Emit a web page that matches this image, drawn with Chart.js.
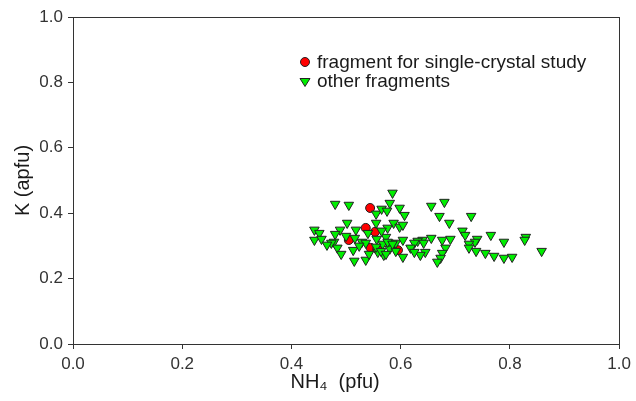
<!DOCTYPE html>
<html>
<head>
<meta charset="utf-8">
<script src="https://cdn.jsdelivr.net/npm/chart.js@4/dist/chart.umd.min.js"></script>
<style>
  html, body { margin: 0; padding: 0; background: #ffffff; }
  #wrap { width: 636px; height: 401px; position: relative; }
</style>
</head>
<body>
<div id="wrap"><canvas id="c" width="636" height="401"></canvas></div>
<script>
// ---- Data ----
const seriesNames = ["fragment for single-crystal study", "other fragments"];

const fragX = [0.544, 0.536, 0.553, 0.505, 0.545, 0.557, 0.595];
const fragY = [0.416, 0.355, 0.343, 0.318, 0.294, 0.290, 0.287];

const otherX = [
  0.480, 0.505, 0.502, 0.442, 0.451, 0.442, 0.455, 0.489, 0.480, 0.500,
  0.478, 0.473, 0.465, 0.484, 0.491, 0.513, 0.515, 0.518, 0.585, 0.580,
  0.555, 0.565, 0.575, 0.598, 0.607, 0.587, 0.576, 0.598, 0.540, 0.516,
  0.529, 0.536, 0.556, 0.573, 0.578, 0.567, 0.591, 0.604, 0.558, 0.569,
  0.580, 0.591, 0.604, 0.536, 0.542, 0.524, 0.555, 0.565, 0.604, 0.555,
  0.576, 0.585, 0.564, 0.573, 0.680, 0.656, 0.671, 0.689, 0.713, 0.718,
  0.656, 0.640, 0.631, 0.625, 0.618, 0.642, 0.676, 0.691, 0.682, 0.676,
  0.673, 0.667, 0.645, 0.636, 0.625, 0.729, 0.765, 0.740, 0.736, 0.725,
  0.789, 0.725, 0.738, 0.755, 0.771, 0.789, 0.804, 0.829, 0.827, 0.858
];
const otherY = [
  0.428, 0.425, 0.370, 0.349, 0.339, 0.318, 0.321, 0.349, 0.336, 0.330,
  0.312, 0.309, 0.303, 0.294, 0.275, 0.287, 0.254, 0.349, 0.462, 0.431,
  0.398, 0.413, 0.407, 0.416, 0.394, 0.370, 0.355, 0.358, 0.339, 0.324,
  0.312, 0.309, 0.321, 0.327, 0.309, 0.306, 0.309, 0.318, 0.281, 0.272,
  0.291, 0.284, 0.266, 0.257, 0.275, 0.300, 0.370, 0.346, 0.364, 0.297,
  0.312, 0.306, 0.284, 0.275, 0.434, 0.422, 0.391, 0.370, 0.346, 0.333,
  0.324, 0.318, 0.315, 0.309, 0.294, 0.309, 0.318, 0.321, 0.294, 0.278,
  0.263, 0.251, 0.281, 0.272, 0.281, 0.391, 0.333, 0.321, 0.312, 0.306,
  0.312, 0.294, 0.284, 0.278, 0.269, 0.263, 0.266, 0.327, 0.318, 0.284
];

const axisTicks = [0.0, 0.2, 0.4, 0.6, 0.8, 1.0];
const xTitle = "NH\u2084  (pfu)";
const yTitle = "K (apfu)";

// ---- Build ----
const toPts = (xs, ys) => xs.map((x, i) => ({ x: x, y: ys[i] }));
const FONT = "'Liberation Sans', Arial, sans-serif";
const INK = "#333333";

const framePlugin = {
  id: "frame",
  afterDatasetsDraw(chart) {
    const { ctx, chartArea: a } = chart;
    ctx.save();
    ctx.strokeStyle = INK;
    ctx.lineWidth = 1;
    ctx.strokeRect(Math.round(a.left) + 0.5, Math.round(a.top) + 0.5,
                   Math.round(a.right - a.left), Math.round(a.bottom - a.top));
    ctx.restore();
  }
};

// x-axis title drawn manually so it can sit slightly left of centre, as in the reference
const xTitlePlugin = {
  id: "xTitle",
  afterDraw(chart) {
    const { ctx, chartArea: a } = chart;
    ctx.save();
    ctx.font = "20px " + FONT;
    ctx.fillStyle = "#1a1a1a";
    ctx.textAlign = "center";
    ctx.textBaseline = "middle";
    ctx.fillText(xTitle, (a.left + a.right) / 2 - 11, 382);
    ctx.restore();
  }
};

const legendPlugin = {
  id: "innerLegend",
  afterDraw(chart) {
    const { ctx, chartArea: a } = chart;
    const x0 = a.left + 232, y0 = a.top + 45, gap = 20;
    ctx.save();
    ctx.font = "19px " + FONT;
    ctx.textBaseline = "middle";
    ctx.beginPath();
    ctx.arc(x0, y0, 4.5, 0, Math.PI * 2);
    ctx.fillStyle = "#ff0000";
    ctx.fill();
    ctx.strokeStyle = "#222";
    ctx.lineWidth = 1;
    ctx.stroke();
    ctx.fillStyle = "#1a1a1a";
    ctx.fillText(seriesNames[0], x0 + 12, y0 + 1);
    const ty = y0 + gap, r = 5;
    ctx.beginPath();
    ctx.moveTo(x0 - r, ty - 3.5);
    ctx.lineTo(x0 + r, ty - 3.5);
    ctx.lineTo(x0, ty + 4.5);
    ctx.closePath();
    ctx.fillStyle = "#00ee00";
    ctx.fill();
    ctx.stroke();
    ctx.fillStyle = "#1a1a1a";
    ctx.fillText(seriesNames[1], x0 + 12, ty);
    ctx.restore();
  }
};

const tickFmt = v => Number(v).toFixed(1);

new Chart(document.getElementById("c"), {
  type: "scatter",
  data: {
    datasets: [
      {
        label: seriesNames[1],
        data: toPts(otherX, otherY),
        pointStyle: "triangle",
        rotation: 180,
        radius: 5.5,
        hoverRadius: 5.5,
        backgroundColor: "#00ee00",
        borderColor: "#222222",
        borderWidth: 1
      },
      {
        label: seriesNames[0],
        data: toPts(fragX, fragY),
        pointStyle: "circle",
        radius: 4.5,
        hoverRadius: 4.5,
        backgroundColor: "#ff0000",
        borderColor: "#222222",
        borderWidth: 1
      }
    ]
  },
  options: {
    responsive: false,
    animation: false,
    devicePixelRatio: 1,
    layout: { padding: { top: 17, right: 13, left: 0, bottom: 0 } },
    plugins: { legend: { display: false }, tooltip: { enabled: false } },
    scales: {
      x: {
        type: "linear",
        min: 0, max: 1,
        afterBuildTicks: s => { s.ticks = axisTicks.map(v => ({ value: v })); },
        afterFit: s => { s.height = 57; },
        ticks: { callback: tickFmt, color: INK, font: { family: FONT, size: 17 }, padding: 5, maxRotation: 0 },
        grid: { display: true, drawOnChartArea: false, drawTicks: true, tickLength: 5, color: INK },
        border: { display: true, color: INK, width: 1 },
        title: { display: false }
      },
      y: {
        type: "linear",
        min: 0, max: 1,
        afterBuildTicks: s => { s.ticks = axisTicks.map(v => ({ value: v })); },
        afterFit: s => { s.width = 73; },
        ticks: { callback: tickFmt, color: INK, font: { family: FONT, size: 17 }, padding: 5 },
        grid: { display: true, drawOnChartArea: false, drawTicks: true, tickLength: 5, color: INK },
        border: { display: true, color: INK, width: 1 },
        title: { display: true, text: yTitle, color: "#1a1a1a", font: { family: FONT, size: 20 }, padding: { top: 11, bottom: 0 } }
      }
    }
  },
  plugins: [framePlugin, legendPlugin, xTitlePlugin]
});
</script>
</body>
</html>
